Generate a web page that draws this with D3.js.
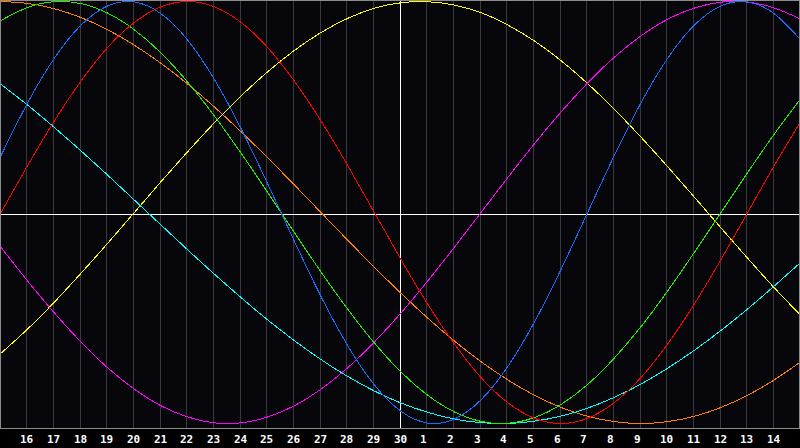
<!DOCTYPE html>
<html>
<head>
<meta charset="utf-8">
<script src="https://cdn.jsdelivr.net/npm/d3@7/dist/d3.min.js"></script>
<style>
  html, body { margin: 0; padding: 0; background: #000; }
  svg { display: block; }
</style>
</head>
<body>
<svg id="chart" width="800" height="448"></svg>
<script>
// Day of month for each sample position (left edge .. right edge)
const days = [15,16,17,18,19,20,21,22,23,24,25,26,27,28,29,30,1,2,3,4,5,6,7,8,9,10,11,12,13,14,15];
// Tick labels shown under the plot
const tickLabels = ["16","17","18","19","20","21","22","23","24","25","26","27","28","29","30","1","2","3","4","5","6","7","8","9","10","11","12","13","14"];

// Cycle values (percent, -100..100) read at each day position
const physical = [27.0,52.0,73.1,88.8,97.9,99.8,94.2,81.7,63.1,39.8,13.6,-13.6,-39.8,-63.1,-81.7,-94.2,-99.8,-97.9,-88.8,-73.1,-52.0,-27.0,0,27.0,52.0,73.1,88.8,97.9,99.8,94.2,81.7];
const emotional = [0,22.3,43.4,62.3,78.2,90.1,97.5,100,97.5,90.1,78.2,62.3,43.4,22.3,0,-22.3,-43.4,-62.3,-78.2,-90.1,-97.5,-100,-97.5,-90.1,-78.2,-62.3,-43.4,-22.3,0,22.3,43.4];
const intellectual = [91.0,97.2,99.9,99.0,94.5,86.6,75.6,61.8,45.8,28.2,9.5,-9.5,-28.2,-45.8,-61.8,-75.6,-86.6,-94.5,-99.0,-99.9,-97.2,-91.0,-81.5,-69.0,-54.1,-37.2,-18.9,0,18.9,37.2,54.1];
const intuitive = [-16.5,-32.5,-47.6,-61.4,-73.6,-83.7,-91.6,-96.9,-99.7,-99.7,-96.9,-91.6,-83.7,-73.6,-61.4,-47.6,-32.5,-16.5,0,16.5,32.5,47.6,61.4,73.6,83.7,91.6,96.9,99.7,99.7,96.9,91.6];
const aesthetic = [-66.7,-55.2,-42.5,-28.8,-14.6,0,14.6,28.8,42.5,55.2,66.7,76.8,85.3,92.0,96.8,99.4,99.9,98.3,94.7,88.9,81.3,72.0,61.1,48.9,35.7,21.7,7.3,-7.3,-21.7,-35.7,-48.9];
const awareness = [100,99.1,96.6,92.4,86.6,79.3,70.7,60.9,50,38.3,25.9,13.1,0,-13.1,-25.9,-38.3,-50,-60.9,-70.7,-79.3,-86.6,-92.4,-96.6,-99.1,-100,-99.1,-96.6,-92.4,-86.6,-79.3,-70.7];
const spiritual = [60.7,50.9,40.3,29.2,17.7,5.9,-5.9,-17.7,-29.2,-40.3,-50.9,-60.7,-69.7,-77.7,-84.6,-90.3,-94.7,-97.9,-99.6,-100,-98.9,-96.5,-92.7,-87.6,-81.3,-73.8,-65.3,-55.9,-45.7,-34.8,-23.5];

const seriesNames = ["awareness","aesthetic","intuitive","spiritual","intellectual","physical","emotional"];
const seriesValues = [awareness, aesthetic, intuitive, spiritual, intellectual, physical, emotional];
const seriesColors = ["#ff8000","#ffff00","#ff00ff","#00ffff","#22ee00","#1a6cff","#ff0000"];

const W = 800, H = 448, plotH = 428;
const svg = d3.select("#chart");

const x = d3.scaleLinear().domain([0, days.length - 1]).range([1, W + 1]);
const y = d3.scaleLinear().domain([-100, 100]).range([423.5, 1.5]);

// backgrounds
svg.append("rect").attr("x",0).attr("y",0).attr("width",W).attr("height",H).attr("fill","#000");
svg.append("rect").attr("x",0).attr("y",0).attr("width",W).attr("height",plotH).attr("fill","#07070b");

// vertical grid lines at each labelled day
const gx = d3.scaleLinear().domain([0, days.length - 1]).range([0, W]);
const gridIdx = d3.range(1, days.length - 1);
svg.append("g").selectAll("line").data(gridIdx).join("line")
  .attr("x1", i => Math.floor(gx(i)) + 0.5)
  .attr("x2", i => Math.floor(gx(i)) + 0.5)
  .attr("y1", 1).attr("y2", plotH)
  .attr("stroke", i => i === 15 ? "#ffffff" : "#3a3a3e")
  .attr("stroke-width", 1)
  .attr("shape-rendering", "crispEdges");

// horizontal zero line
svg.append("line")
  .attr("x1", 1).attr("x2", W - 1)
  .attr("y1", 214.5).attr("y2", 214.5)
  .attr("stroke", "#ffffff").attr("stroke-width", 1)
  .attr("shape-rendering", "crispEdges");

// curves
const line = d3.line()
  .x((d, i) => x(i))
  .y(d => y(d))
  .curve(d3.curveNatural);

svg.append("defs").append("clipPath").attr("id","plotClip")
  .append("rect").attr("x",1).attr("y",1).attr("width",W-2).attr("height",plotH-1);

const cg = svg.append("g").attr("clip-path","url(#plotClip)");
cg.selectAll("path").data(seriesValues).join("path")
  .attr("d", d => line(d))
  .attr("fill", "none")
  .attr("stroke", (d, i) => seriesColors[i])
  .attr("stroke-width", 1)
  .attr("shape-rendering", "crispEdges");

// frame
svg.append("rect")
  .attr("x", 0.5).attr("y", 0.5).attr("width", W - 1).attr("height", plotH)
  .attr("fill", "none").attr("stroke", "#8c8c8c").attr("stroke-width", 1)
  .attr("shape-rendering", "crispEdges");

// tick labels
svg.append("g").selectAll("text").data(tickLabels).join("text")
  .attr("x", (d, i) => Math.floor(gx(i + 1)) - 6)
  .attr("y", 443)
  .attr("fill", "#ffffff")
  .attr("font-family", "'DejaVu Sans Mono', monospace")
  .attr("font-weight", "bold")
  .attr("font-size", "11px")
  .attr("text-anchor", "start")
  .text(d => d);
</script>
</body>
</html>
